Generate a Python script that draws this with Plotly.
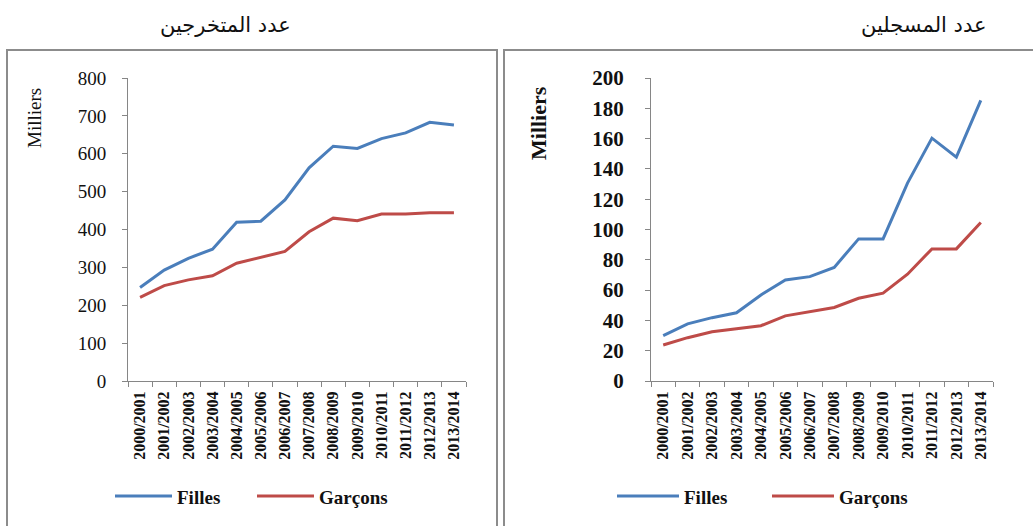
import plotly.graph_objects as go

# Academic years on the category axis
years = ["2000/2001", "2001/2002", "2002/2003", "2003/2004", "2004/2005",
         "2005/2006", "2006/2007", "2007/2008", "2008/2009", "2009/2010",
         "2010/2011", "2011/2012", "2012/2013", "2013/2014"]

# Graduates (thousands)
grad_filles = [247, 293, 324, 348, 419, 422, 478, 563, 620, 614, 640, 655, 683, 676]
grad_garcons = [221, 252, 267, 278, 311, 327, 342, 394, 430, 423, 441, 441, 444, 444]

# Enrolled (thousands)
enr_filles = [30, 37.7, 41.8, 45, 56.8, 66.7, 68.9, 75, 93.8, 93.8, 130.6, 160.3, 147.8, 185.2]
enr_garcons = [23.8, 28.6, 32.5, 34.5, 36.5, 43, 45.8, 48.5, 54.6, 58, 70.5, 87.2, 87.2, 104.6]

series_names = ["Filles", "Garçons"]
left_ticks = [0, 100, 200, 300, 400, 500, 600, 700, 800]
right_ticks = [0, 20, 40, 60, 80, 100, 120, 140, 160, 180, 200]

BLUE = "#4a7ebb"
RED = "#be4b48"
COLORS = [BLUE, RED]
AXIS = "#868686"
W, H = 1033, 526
serif = "Liberation Serif"


def px(x):
    return x / W


def py(y):
    return 1 - y / H


fig = go.Figure()

panels = [
    dict(xa="x", ya="y", data=[grad_filles, grad_garcons],
         legend_x=[115, 257], legend_len=57),
    dict(xa="x2", ya="y2", data=[enr_filles, enr_garcons],
         legend_x=[617, 772], legend_len=62),
]

for panel in panels:
    for name, color, values in zip(series_names, COLORS, panel["data"]):
        fig.add_trace(go.Scatter(x=years, y=values, name=name, mode="lines",
                                 line=dict(color=color, width=3),
                                 xaxis=panel["xa"], yaxis=panel["ya"],
                                 showlegend=False))
    # Legend row under each panel: coloured line sample followed by its name
    for name, color, x0 in zip(series_names, COLORS, panel["legend_x"]):
        x1 = x0 + panel["legend_len"]
        fig.add_shape(type="line", xref="paper", yref="paper",
                      x0=px(x0), x1=px(x1), y0=py(496), y1=py(496),
                      line=dict(color=color, width=3))
        fig.add_annotation(text=name, xref="paper", yref="paper",
                           x=px(x1 + 3), y=py(497), xanchor="left",
                           yanchor="middle", showarrow=False,
                           font=dict(family=serif, size=19, color="#111",
                                     weight="bold"))

xaxis_common = dict(type="category", range=[-0.5, 13.5], showline=True,
                    linecolor=AXIS, linewidth=1, ticks="outside",
                    tickson="boundaries", ticklen=5, tickcolor=AXIS,
                    tickangle=-90, showgrid=False, zeroline=False,
                    automargin=False, ticklabelstandoff=3,
                    tickfont=dict(family=serif, size=16, color="#111",
                                  weight="bold"))
yaxis_common = dict(showline=True, linecolor=AXIS, linewidth=1,
                    ticks="outside", ticklen=5, tickcolor=AXIS,
                    showgrid=False, zeroline=False, automargin=False)

fig.update_layout(
    template="none",
    width=W, height=H, autosize=False,
    margin=dict(l=0, r=0, t=0, b=0, pad=0),
    paper_bgcolor="white", plot_bgcolor="white",
    showlegend=False,
    xaxis=dict(domain=[px(128), px(466)], anchor="y", **xaxis_common),
    yaxis=dict(domain=[py(381), py(78)], anchor="x", range=[0, 800],
               tickvals=left_ticks, ticklabelstandoff=12,
               tickfont=dict(family=serif, size=19, color="#111"),
               **yaxis_common),
    xaxis2=dict(domain=[px(651), px(993)], anchor="y2", **xaxis_common),
    yaxis2=dict(domain=[py(381), py(78)], anchor="x2", range=[0, 200],
                tickvals=right_ticks, ticklabelstandoff=17,
                tickfont=dict(family=serif, size=21, color="#111",
                              weight="bold"),
                **yaxis_common),
)

# Panel frames
fig.add_shape(type="rect", xref="paper", yref="paper",
              x0=px(7), x1=px(497), y0=py(540), y1=py(50),
              line=dict(color="#8c8c8c", width=2))
fig.add_shape(type="rect", xref="paper", yref="paper",
              x0=px(504), x1=px(1045), y0=py(540), y1=py(50),
              line=dict(color="#8c8c8c", width=2))

# Panel headings and axis titles
fig.add_annotation(text="عدد المتخرجين", xref="paper", yref="paper",
                   x=px(225), y=py(25), xanchor="center", yanchor="middle",
                   showarrow=False,
                   font=dict(family="DejaVu Sans", size=21, color="#111"))
fig.add_annotation(text="عدد المسجلين", xref="paper", yref="paper",
                   x=px(924), y=py(25), xanchor="center", yanchor="middle",
                   showarrow=False,
                   font=dict(family="DejaVu Sans", size=21, color="#111"))
fig.add_annotation(text="Milliers", xref="paper", yref="paper",
                   x=px(34), y=py(118), xanchor="center", yanchor="middle",
                   textangle=-90, showarrow=False,
                   font=dict(family=serif, size=19, color="#111"))
fig.add_annotation(text="Milliers", xref="paper", yref="paper",
                   x=px(539), y=py(123), xanchor="center", yanchor="middle",
                   textangle=-90, showarrow=False,
                   font=dict(family=serif, size=22, color="#111",
                             weight="bold"))

fig.write_html("out.html")
